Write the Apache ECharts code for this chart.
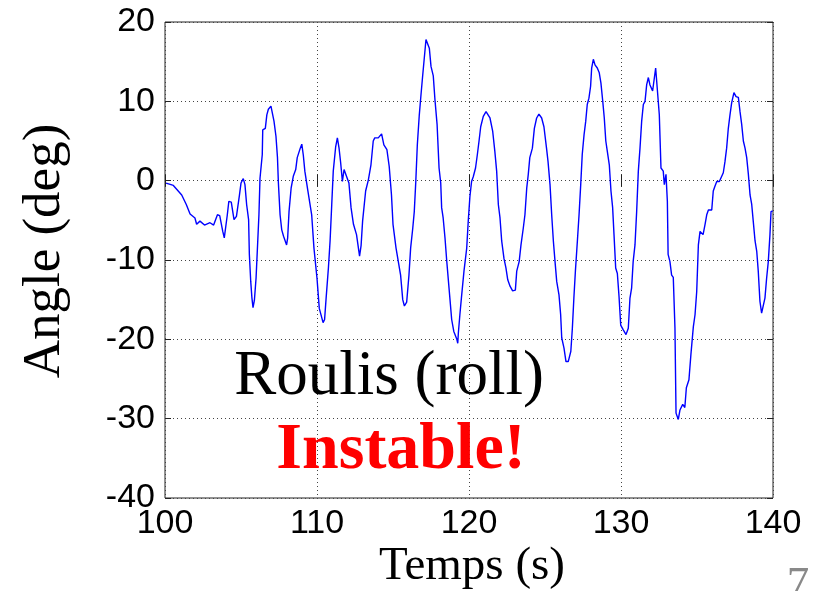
<!DOCTYPE html>
<html>
<head>
<meta charset="utf-8">
<script src="https://cdn.jsdelivr.net/npm/echarts@6/dist/echarts.min.js"></script>
<style>html,body{margin:0;padding:0;background:#fff;}#c{width:823px;height:591px;}</style>
</head>
<body>
<div id="c"></div>
<script>
const timeSec = [100.07,100.55,101.1,101.4,101.65,101.97,102.08,102.3,102.6,102.96,103.2,103.45,103.6,103.8,103.9,104.0,104.1,104.2,104.36,104.54,104.7,104.9,105.0,105.15,105.26,105.37,105.5,105.55,105.64,105.72,105.79,105.88,105.99,106.1,106.18,106.25,106.4,106.43,106.6,106.7,106.8,106.97,107.08,107.17,107.3,107.4,107.46,107.57,107.68,107.8,108.0,108.07,108.16,108.3,108.44,108.6,108.7,108.9,109.0,109.1,109.2,109.4,109.65,109.8,110.0,110.15,110.4,110.5,110.6,110.75,110.86,110.97,111.07,111.23,111.34,111.45,111.56,111.67,111.78,111.9,112.1,112.24,112.4,112.6,112.8,112.9,113.0,113.2,113.38,113.55,113.7,113.8,114.03,114.25,114.4,114.6,114.75,114.9,115.0,115.2,115.35,115.5,115.64,115.75,115.9,116.05,116.16,116.3,116.4,116.5,116.6,116.73,116.84,116.95,117.06,117.17,117.28,117.39,117.5,117.65,117.76,117.9,118.03,118.14,118.2,118.3,118.42,118.53,118.64,118.75,118.86,119.0,119.2,119.26,119.3,119.4,119.5,119.67,119.85,119.95,120.06,120.17,120.28,120.43,120.55,120.66,120.77,120.94,121.12,121.23,121.38,121.56,121.7,121.82,121.93,122.04,122.15,122.3,122.43,122.55,122.7,122.87,123.05,123.14,123.3,123.42,123.57,123.68,123.8,123.9,124.0,124.17,124.3,124.45,124.6,124.78,124.93,125.1,125.2,125.33,125.44,125.55,125.66,125.77,125.92,126.03,126.1,126.25,126.38,126.53,126.7,126.8,126.9,127.0,127.13,127.24,127.35,127.45,127.57,127.68,127.78,127.89,128.0,128.07,128.18,128.29,128.44,128.57,128.68,128.8,128.9,129.0,129.1,129.23,129.34,129.45,129.54,129.65,129.76,129.87,129.98,130.15,130.33,130.48,130.59,130.7,130.8,130.92,131.03,131.14,131.25,131.36,131.47,131.58,131.69,131.8,131.9,132.08,132.2,132.28,132.4,132.52,132.63,132.78,132.85,132.96,133.05,133.1,133.22,133.33,133.44,133.55,133.62,133.77,133.88,134.06,134.2,134.3,134.47,134.6,134.76,134.87,134.98,135.09,135.2,135.3,135.4,135.53,135.64,135.75,135.97,136.07,136.18,136.3,136.47,136.6,136.73,136.84,136.95,137.06,137.17,137.28,137.43,137.57,137.72,137.83,137.94,138.05,138.16,138.27,138.38,138.49,138.6,138.7,138.82,138.93,139.03,139.14,139.25,139.36,139.47,139.58,139.69,139.8,139.87,139.98];
const rollDeg = [-0.3,-0.6,-1.8,-3.0,-4.2,-4.7,-5.5,-5.1,-5.6,-5.3,-5.6,-4.3,-4.4,-6.4,-7.2,-7.2,-4.3,-2.6,-2.7,-4.9,-4.5,-1.8,-0.3,0.25,-0.5,-3.0,-4.9,-9.3,-12.7,-14.8,-16.0,-15.1,-12.3,-7.7,-4.3,0.3,3.3,6.4,6.6,8.3,9.0,9.4,9.4,7.5,5.6,2.9,-0.3,-4.3,-6.2,-7.0,-8.1,-7.2,-3.9,-0.9,0.55,1.4,2.9,4.1,4.6,3.2,1.2,-1.3,-4.3,-8.5,-12.3,-16.1,-17.9,-17.5,-14.8,-11.0,-7.6,-3.0,1.2,4.3,5.4,4.1,2.2,-0.1,1.4,1.2,-0.3,-3.4,-5.5,-6.8,-9.5,-8.2,-5.1,-1.3,0.1,2.0,5.0,5.4,5.4,5.9,4.5,3.9,1.8,-1.8,-5.5,-8.5,-10.2,-11.9,-15.0,-15.8,-15.3,-11.9,-8.5,-6.0,-3.9,-0.1,4.5,8.3,10.8,13.2,15.5,17.8,17.8,16.7,14.4,13.2,10.2,7.1,1.6,-0.3,-3.4,-4.7,-7.2,-10.0,-12.5,-15.0,-17.5,-19.0,-20.0,-20.5,-19.2,-16.9,-14.8,-11.4,-8.5,-5.1,-2.0,-0.1,0.5,1.6,3.3,5.0,6.8,8.1,8.7,8.7,7.9,6.2,3.7,1.2,-3.0,-4.7,-7.6,-9.8,-11.0,-12.5,-13.3,-13.9,-13.8,-11.4,-10.2,-8.1,-6.0,-4.3,-0.9,0.8,2.9,4.1,6.6,7.9,8.4,7.9,6.8,4.1,2.4,-0.5,-4.3,-7.6,-10.2,-12.7,-14.4,-16.9,-19.8,-21.1,-22.8,-22.8,-21.5,-18.6,-14.8,-11.4,-7.6,-4.3,-0.5,3.3,5.8,7.5,9.6,10.4,11.9,14.2,15.3,14.6,14.2,13.6,12.3,10.0,7.9,5.0,3.7,2.0,-1.3,-3.4,-6.8,-11.0,-11.7,-14.6,-18.2,-18.8,-19.4,-18.6,-14.8,-13.5,-10.2,-8.1,-3.9,1.2,4.1,7.5,9.6,10.0,12.1,13.0,12.1,11.3,11.3,14.2,14.1,8.3,1.6,1.2,-0.5,0.8,-2.6,-9.3,-10.2,-11.9,-12.2,-18.6,-29.3,-30.1,-28.9,-28.2,-28.6,-26.1,-25.1,-21.9,-18.4,-16.9,-14.0,-8.1,-6.4,-6.3,-6.8,-5.5,-4.3,-3.7,-3.7,-1.3,-0.7,-0.1,-0.1,-0.3,1.0,2.4,4.1,6.6,8.3,9.8,11.1,10.6,10.5,8.7,7.1,5.0,4.1,2.9,0.8,-1.8,-3.0,-5.1,-7.6,-8.9,-11.4,-15.2,-16.7,-16.7,-14.8,-12.3,-10.2,-6.8,-3.9,-3.8];
const xTicks = [100, 110, 120, 130, 140];
const yTicks = [-40, -30, -20, -10, 0, 10, 20];
const yLabel = 'Angle (deg)';
const xLabel = 'Temps (s)';
const note1 = 'Roulis (roll)';
const note2 = 'Instable!';
const pageNo = '7';

const chart = echarts.init(document.getElementById('c'), null, {renderer: 'canvas'});
const pts = timeSec.map((t, i) => [t, rollDeg[i]]);
const tickFont = {fontFamily: '"Liberation Sans", Arial', fontSize: 34, color: '#000'};
const split = {show: true, lineStyle: {color: '#444', width: 1, type: [1, 3]}};
const tick = {show: true, inside: true, length: 6, lineStyle: {color: '#222', width: 1}};
function baseX(pos, labels) {
  return {type: 'value', position: pos, min: xTicks[0], max: xTicks[xTicks.length - 1], interval: 10,
    axisLine: {show: false}, axisTick: tick, splitLine: pos === 'bottom' ? split : {show: false},
    axisLabel: labels ? Object.assign({margin: 9}, tickFont) : {show: false}};
}
function baseY(pos, labels) {
  return {type: 'value', position: pos, min: yTicks[0], max: yTicks[yTicks.length - 1], interval: 10,
    axisLine: {show: false}, axisTick: tick, splitLine: pos === 'left' ? split : {show: false},
    axisLabel: labels ? Object.assign({margin: 10}, tickFont) : {show: false}};
}
chart.setOption({
  animation: false,
  backgroundColor: '#fff',
  grid: {left: 165, right: 50, top: 22, bottom: 93, show: true, borderColor: '#222', borderWidth: 1, backgroundColor: 'transparent'},
  xAxis: [baseX('bottom', true), baseX('top', false)],
  yAxis: [baseY('left', true), baseY('right', false)],
  series: [{type: 'line', xAxisIndex: 0, yAxisIndex: 0, data: pts, showSymbol: false, symbol: 'none',
    lineStyle: {color: '#0000ff', width: 1.4}, z: 5}],
  graphic: [
    {type: 'text', x: 45, y: 251, rotation: Math.PI / 2,
      style: {text: yLabel, font: '53px "Liberation Serif"', fill: '#000', textAlign: 'center', textVerticalAlign: 'middle'}},
    {type: 'text', x: 472, y: 567,
      style: {text: xLabel, font: '47px "Liberation Serif"', fill: '#000', textAlign: 'center', textVerticalAlign: 'middle'}},
    {type: 'text', x: 389, y: 377, z: 10,
      style: {text: note1, font: '63px "Liberation Serif"', fill: '#000', textAlign: 'center', textVerticalAlign: 'middle'}},
    {type: 'text', x: 401, y: 451, z: 10,
      style: {text: note2, font: 'bold 66px "Liberation Serif"', fill: '#ff0000', textAlign: 'center', textVerticalAlign: 'middle'}},
    {type: 'text', x: 798, y: 585,
      style: {text: pageNo, font: '45px "Liberation Serif"', fill: '#898989', textAlign: 'center', textVerticalAlign: 'middle'}}
  ]
});
</script>
</body>
</html>
